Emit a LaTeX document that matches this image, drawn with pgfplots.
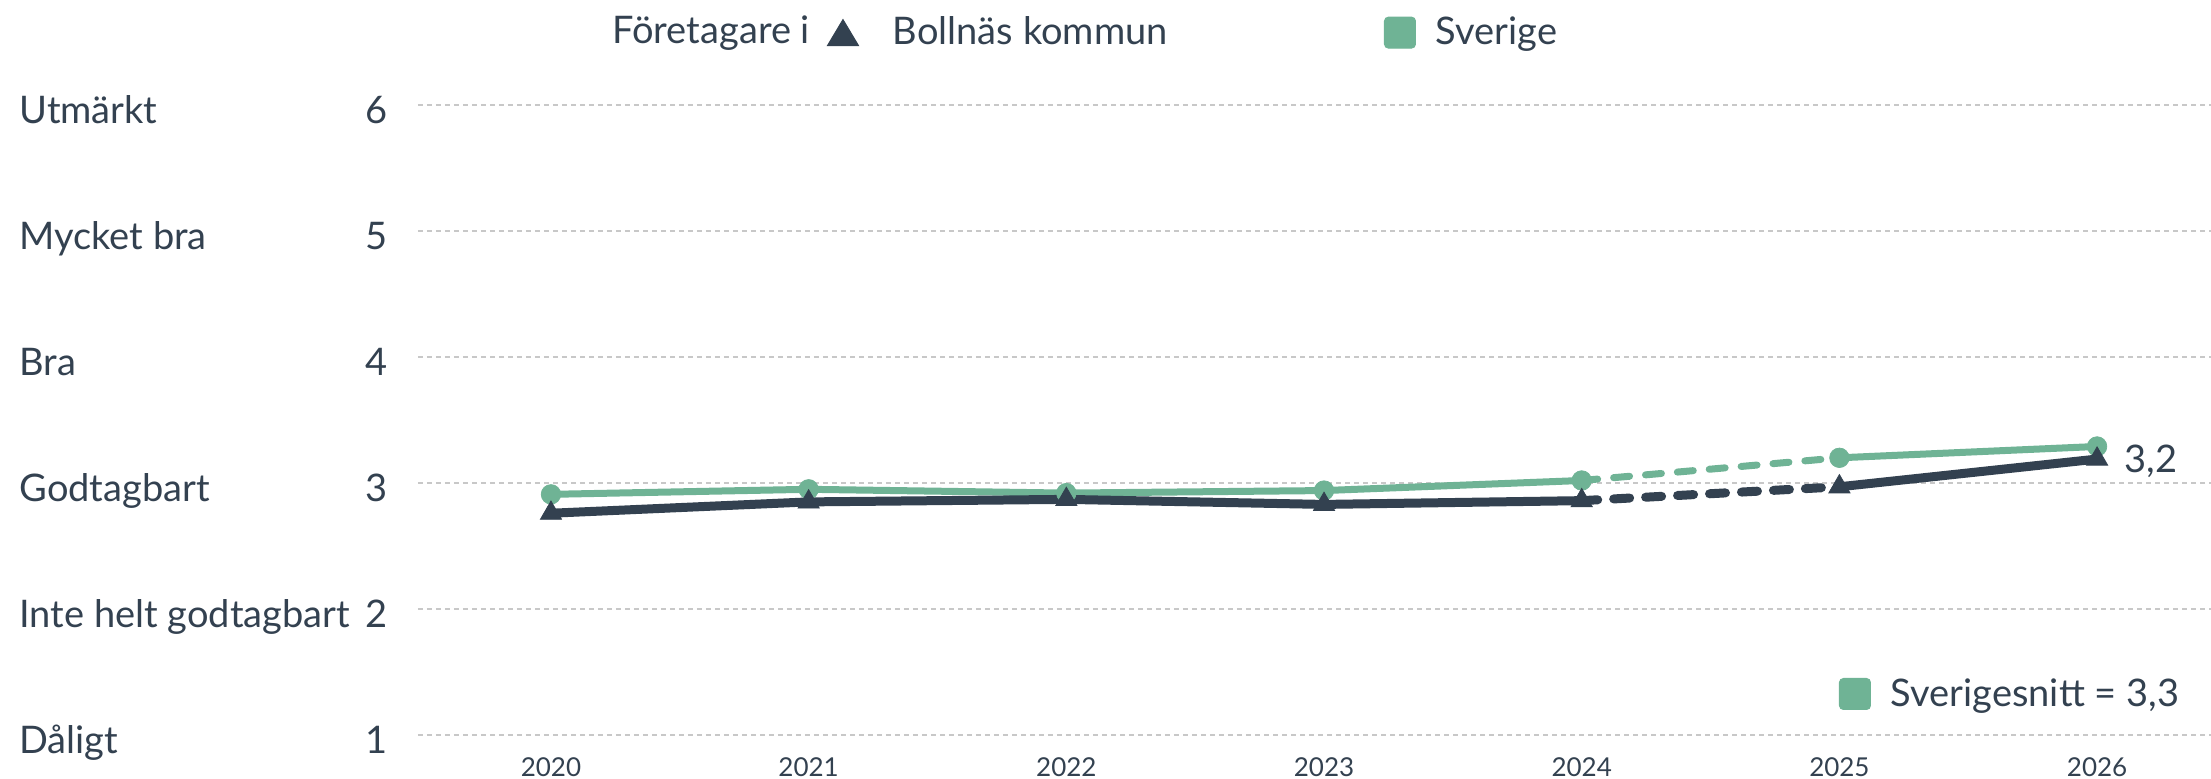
\documentclass[border=0pt]{standalone}
\usepackage{fontspec}
\setmainfont{Lato}
\usepackage{pgfplots}
\pgfplotsset{compat=1.18}
\definecolor{dark}{HTML}{334150}
\definecolor{grn}{HTML}{6FB395}
\definecolor{gridc}{HTML}{C8C8C8}
\newcommand{\lbl}{\fontsize{15.2pt}{18pt}\selectfont}
\newcommand{\ylab}[2]{\makebox[147.2pt]{#1\hfill #2}}
\begin{document}
\begin{tikzpicture}
\useasboundingbox (-167.2pt,-17.2pt) rectangle (717.2pt,294pt);
\begin{axis}[
  at={(0,0)}, anchor=south west,
  scale only axis, width=717.2pt, height=252pt,
  xmin=2019.484, xmax=2026.442, ymin=1, ymax=6,
  clip=false,
  axis line style={draw=none}, major tick length=0pt,
  ymajorgrids, major grid style={gridc, line width=0.6pt, dash pattern=on 2pt off 1.6pt},
  xtick={2020,2021,2022,2023,2024,2025,2026},
  xticklabels={2020,2021,2022,2023,2024,2025,2026},
  ytick={1,2,3,4,5,6},
  yticklabels={{\ylab{Dåligt}{1}},{\ylab{Inte helt godtagbart}{2}},{\ylab{Godtagbart}{3}},{\ylab{Bra}{4}},{\ylab{Mycket bra}{5}},{\ylab{Utmärkt}{6}}},
  xticklabel style={anchor=base, inner sep=0pt, yshift=-16.4pt, font=\fontsize{10.4pt}{12pt}\selectfont, text=dark},
  yticklabel style={anchor=base east, inner sep=0pt, xshift=-12pt, yshift=-7.2pt, font=\lbl, text=dark},
  legend style={draw=none, fill=none, inner sep=0pt, outer sep=0pt, font=\lbl, text=dark,
    at={(0.2281,1.1149)}, anchor=west, legend columns=2,
    nodes={inner sep=0pt},
    /tikz/every odd column/.append style={column sep=8pt}},
  legend cell align=left,
]
% Sverige
\addplot[forget plot, grn, line width=2.8pt, mark=*, mark size=3.9pt, mark options={solid, line width=0.3pt}]
  coordinates {(2020,2.91) (2021,2.95) (2022,2.92) (2023,2.94) (2024,3.02)};
\addplot[forget plot, grn, line width=2.8pt, line cap=round, dash pattern=on 6.4pt off 6.4pt]
  coordinates {(2024,3.02) (2025,3.20)};
\addplot[forget plot, grn, line width=2.8pt, mark=*, mark size=3.9pt, mark options={solid, line width=0.3pt}]
  coordinates {(2025,3.20) (2026,3.29)};
% Bollnäs
\addplot[forget plot, dark, line width=3.6pt, mark=triangle*, mark size=4.9pt, mark options={solid, line width=0.3pt}]
  coordinates {(2020,2.76) (2021,2.85) (2022,2.87) (2023,2.83) (2024,2.86)};
\addplot[forget plot, dark, line width=3.6pt, line cap=round, dash pattern=on 6.4pt off 6.4pt]
  coordinates {(2024,2.86) (2025,2.97)};
\addplot[forget plot, dark, line width=3.6pt, mark=triangle*, mark size=4.9pt, mark options={solid, line width=0.3pt}]
  coordinates {(2025,2.97) (2026,3.19)};
\addlegendimage{legend image code/.code={\fill[dark] (0pt,-5.2pt) -- (12.4pt,-5.2pt) -- (6.2pt,5.2pt) -- cycle;}}
\addlegendentry{\hspace{5.6pt}\makebox[196.4pt][l]{\vphantom{lg}Bollnäs kommun}}
\addlegendimage{legend image code/.code={\fill[grn, rounded corners=1.6pt] (0pt,-6.2pt) rectangle (12.4pt,6.2pt);}}
\addlegendentry{\vphantom{lg}Sverige}
\node[anchor=base west, inner sep=0pt, font=\lbl, text=dark] at (rel axis cs:0.1082,1.0984) {Företagare i};
\node[anchor=base west, inner sep=0pt, font=\lbl, text=dark, xshift=10.8pt, yshift=-5.2pt] at (axis cs:2026,3.19) {3,2};
\end{axis}
\begin{axis}[
  at={(0,0)}, anchor=south west,
  scale only axis, width=717.2pt, height=252pt,
  hide axis, xmin=0, xmax=1, ymin=0, ymax=1,
  legend style={draw=none, fill=none, inner sep=0pt, outer sep=0pt, font=\lbl, text=dark,
    at={(0.7925,0.0651)}, anchor=west,
    nodes={inner sep=0pt},
    /tikz/every odd column/.append style={column sep=8pt}},
  legend cell align=left,
]
\addlegendimage{legend image code/.code={\fill[grn, rounded corners=1.6pt] (0pt,-6.2pt) rectangle (12.4pt,6.2pt);}}
\addlegendentry{\vphantom{lg}Sverigesnitt = 3,3}
\end{axis}
\end{tikzpicture}
\end{document}
